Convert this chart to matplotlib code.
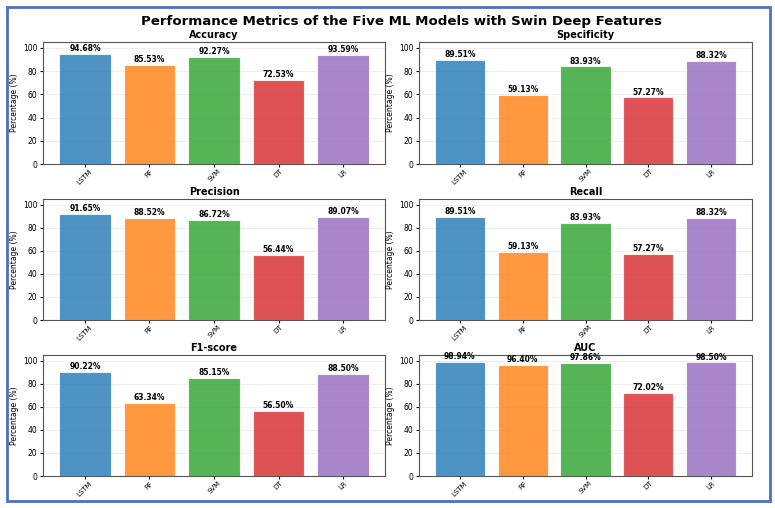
import numpy as np
import matplotlib.pyplot as plt
from matplotlib.patches import Rectangle

models = ['LSTM', 'RF', 'SVM', 'DT', 'LR']
metrics = ['Accuracy', 'Specificity', 'Precision', 'Recall', 'F1-score', 'AUC']
accuracy = [94.68, 85.53, 92.27, 72.53, 93.59]
specificity = [89.51, 59.13, 83.93, 57.27, 88.32]
precision = [91.65, 88.52, 86.72, 56.44, 89.07]
recall = [89.51, 59.13, 83.93, 57.27, 88.32]
f1_score = [90.22, 63.34, 85.15, 56.50, 88.50]
auc = [98.94, 96.40, 97.86, 72.02, 98.50]
values = [accuracy, specificity, precision, recall, f1_score, auc]

colors = ['#1f77b4', '#ff7f0e', '#2ca02c', '#d62728', '#9467bd']

W, H = 775, 508
fig = plt.figure(figsize=(W / 100, H / 100), dpi=100)

# blue frame around the whole figure
fig.patches.append(Rectangle((7 / W, 1 - 501 / H), 763 / W, 494 / H,
                             transform=fig.transFigure, fill=False,
                             edgecolor='#4a72c0', linewidth=2))

fig.text(401 / W, 1 - 21 / H, 'Performance Metrics of the Five ML Models with Swin Deep Features',
         ha='center', va='center', fontsize=9.6, fontweight='bold')

lefts = [43, 419]
rights = [385, 752]
tops = [42, 199, 355]
bottoms = [164, 320, 476]

for i, (name, vals) in enumerate(zip(metrics, values)):
    r, c = divmod(i, 2)
    x0, x1 = lefts[c], rights[c]
    y0, y1 = tops[r], bottoms[r]
    ax = fig.add_axes([x0 / W, 1 - y1 / H, (x1 - x0) / W, (y1 - y0) / H])
    x = np.arange(len(models))
    bars = ax.bar(x, vals, color=colors, alpha=0.8, edgecolor='white', linewidth=0.8, width=0.8)
    for b, v in zip(bars, vals):
        ax.text(b.get_x() + b.get_width() / 2, v + 0.8, f'{v:.2f}%',
                ha='center', va='bottom', fontsize=5.5, fontweight='bold')
    ax.set_ylim(0, 105)
    ax.set_xlim(-0.65, 4.65)
    ax.set_xticks(x)
    ax.set_xticklabels(models, rotation=45, fontsize=5)
    ax.set_yticks([0, 20, 40, 60, 80, 100])
    ax.tick_params(axis='y', labelsize=5.5, length=2, pad=2)
    ax.tick_params(axis='x', length=2, pad=1)
    ax.set_ylabel('Percentage (%)', fontsize=5.5, labelpad=3)
    ax.set_title(name, fontsize=7, fontweight='bold', pad=3)
    ax.grid(axis='y', alpha=0.3, linewidth=0.5)
    ax.set_axisbelow(True)
    for s in ax.spines.values():
        s.set_color('#555555')
        s.set_linewidth(0.8)

fig.savefig('out.png', dpi=100)
